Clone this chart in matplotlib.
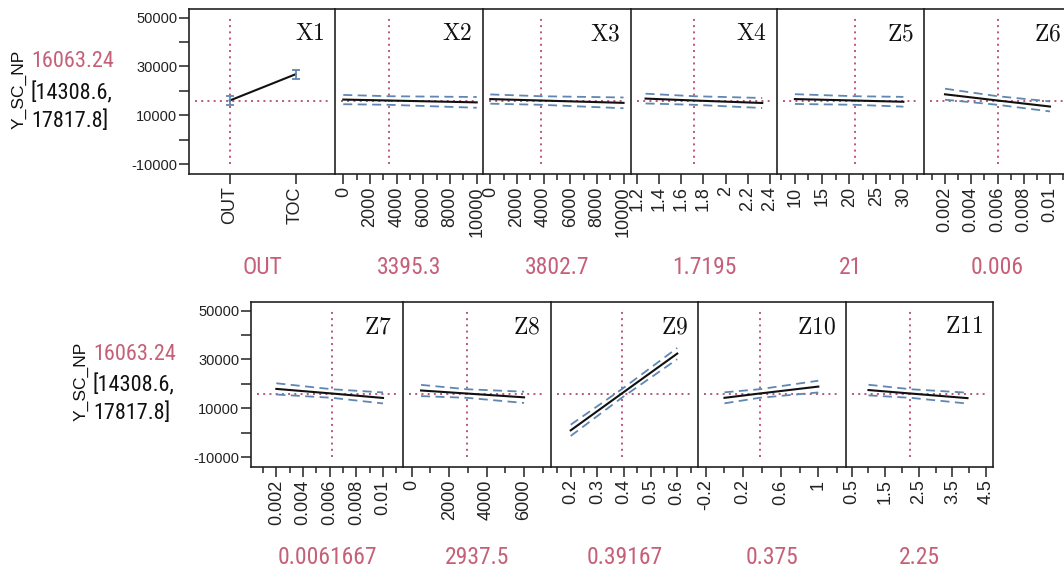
import matplotlib
matplotlib.use("Agg")
import matplotlib.pyplot as plt
from matplotlib import font_manager
from matplotlib.ticker import FixedLocator, FixedFormatter, NullFormatter

# ---------------- data ----------------
response_name = "Y_SC_NP"
response_value = "16063.24"
response_ci = ["[14308.6,", "17817.8]"]
y_current = 16063.24

factor_names = ["X1", "X2", "X3", "X4", "Z5", "Z6", "Z7", "Z8", "Z9", "Z10", "Z11"]
current_labels = ["OUT", "3395.3", "3802.7", "1.7195", "21", "0.006",
                  "0.0061667", "2937.5", "0.39167", "0.375", "2.25"]

# X1 is categorical
x1_levels = ["OUT", "TOC"]
x1_pred = [16063.24, 26800]
x1_lower = [14308.6, 24900]
x1_upper = [17817.8, 28700]

# continuous factors: [min, current, max]
x2_x = [0, 3395.3, 10000]
x2_pred = [16450, 16063.24, 15300]
x2_lo = [14550, 14308.6, 13100]
x2_hi = [18350, 17817.8, 17500]

x3_x = [0, 3802.7, 10000]
x3_pred = [16650, 16063.24, 15100]
x3_lo = [14750, 14308.6, 12900]
x3_hi = [18550, 17817.8, 17300]

x4_x = [1.28, 1.7195, 2.33]
x4_pred = [16850, 16063.24, 15050]
x4_lo = [14850, 14308.6, 13000]
x4_hi = [18850, 17817.8, 17100]

z5_x = [10, 21, 30]
z5_pred = [16650, 16063.24, 15550]
z5_lo = [14650, 14308.6, 13550]
z5_hi = [18650, 17817.8, 17550]

z6_x = [0.002, 0.006, 0.01]
z6_pred = [18600, 16063.24, 13600]
z6_lo = [16400, 14308.6, 11600]
z6_hi = [20900, 17817.8, 15700]

z7_x = [0.002, 0.0061667, 0.01]
z7_pred = [17950, 16063.24, 14250]
z7_lo = [15650, 14308.6, 12000]
z7_hi = [20250, 17817.8, 16500]

z8_x = [500, 2937.5, 6000]
z8_pred = [17300, 16063.24, 14500]
z8_lo = [15000, 14308.6, 12200]
z8_hi = [19600, 17817.8, 16800]

z9_x = [0.2, 0.39167, 0.6]
z9_pred = [1000, 16063.24, 32400]
z9_lo = [-1300, 14308.6, 30100]
z9_hi = [3300, 17817.8, 34700]

z10_x = [0, 0.375, 1]
z10_pred = [14300, 16063.24, 18900]
z10_lo = [12050, 14308.6, 16500]
z10_hi = [16550, 17817.8, 21300]

z11_x = [1, 2.25, 3.95]
z11_pred = [17480, 16063.24, 14170]
z11_lo = [15300, 14308.6, 11950]
z11_hi = [19650, 17817.8, 16400]

# axis ticks
y_ticks = [-10000, 0, 10000, 20000, 30000, 40000, 50000]
y_ticklabels = ["-10000", "", "10000", "", "30000", "", "50000"]

x2_ticks = [0, 2000, 4000, 6000, 8000, 10000]
x2_minor = [1000, 3000, 5000, 7000, 9000]
x3_ticks = [0, 2000, 4000, 6000, 8000, 10000]
x3_minor = [1000, 3000, 5000, 7000, 9000]
x4_ticks = [1.2, 1.4, 1.6, 1.8, 2.0, 2.2, 2.4]
x4_ticklabels = ["1.2", "1.4", "1.6", "1.8", "2", "2.2", "2.4"]
z5_ticks = [10, 15, 20, 25, 30]
z5_minor = [7.5, 12.5, 17.5, 22.5, 27.5, 32.5]
z6_ticks = [0.002, 0.004, 0.006, 0.008, 0.01]
z6_minor = [0.001, 0.003, 0.005, 0.007, 0.009, 0.011]
z7_ticks = [0.002, 0.004, 0.006, 0.008, 0.01]
z7_minor = [0.001, 0.003, 0.005, 0.007, 0.009, 0.011]
z8_ticks = [0, 2000, 4000, 6000]
z8_minor = [1000, 3000, 5000, 7000]
z9_ticks = [0.2, 0.3, 0.4, 0.5, 0.6]
z9_minor = [0.15, 0.25, 0.35, 0.45, 0.55, 0.65]
z10_ticks = [-0.2, 0.2, 0.6, 1.0]
z10_ticklabels = ["-0.2", "0.2", "0.6", "1"]
z10_minor = [0.0, 0.4, 0.8, 1.2]
z11_ticks = [0.5, 1.5, 2.5, 3.5, 4.5]
z11_minor = [1, 2, 3, 4]

# ---------------- style / layout ----------------
W, H = 1064, 571
plt.rcParams["mathtext.fontset"] = "cm"
plt.rcParams["font.family"] = ["Liberation Sans", "DejaVu Sans"]

# pick a narrow sans family if one is installed
installed = {f.name for f in font_manager.fontManager.ttflist}
narrow_candidates = ["Liberation Sans Narrow", "Roboto Condensed", "Open Sans Condensed",
                     "DejaVu Sans Condensed", "Arial Narrow"]
narrow = [n for n in narrow_candidates if n in installed]
if narrow:
    NARROW = [narrow[0], "Liberation Sans"]
    LABEL_FS, BLOCK_FS = 17, 16
else:
    NARROW = ["Liberation Sans"]
    LABEL_FS, BLOCK_FS = 14.5, 14

RED = "#c65f78"
DOT = "#b8577a"
BLUE = "#5f87b2"

fig = plt.figure(figsize=(W / 100, H / 100), dpi=100)
fig.patch.set_facecolor("white")

YLIM = (-14000, 53500)


def px_axes(left, top, width, height):
    return fig.add_axes([left / W, 1 - (top + height) / H, width / W, height / H])


def style_axes(ax, first):
    ax.patch.set_visible(False)
    for s in ax.spines.values():
        s.set_linewidth(1.2)
        s.set_color("#222222")
    if not first:
        ax.spines["left"].set_visible(False)
    ax.set_ylim(*YLIM)
    ax.tick_params(axis="x", which="major", direction="out", length=7, width=1.1,
                   labelsize=13, pad=2, colors="#222222")
    ax.tick_params(axis="x", which="minor", direction="out", length=4.5, width=1.1,
                   colors="#222222")
    if first:
        ax.yaxis.set_major_locator(FixedLocator(y_ticks))
        ax.yaxis.set_major_formatter(FixedFormatter(y_ticklabels))
        ax.tick_params(axis="y", direction="out", length=7, width=1.1, labelsize=10.5,
                       pad=1.5, colors="#222222")
    else:
        ax.tick_params(axis="y", left=False, labelleft=False)


def add_title(ax, name):
    ax.text(0.93, 0.81, r"$\mathrm{%s}$" % name, transform=ax.transAxes,
            ha="right", va="baseline", fontsize=17, color="#111111")


def ref_lines(ax, xcur):
    ax.axhline(y_current, xmin=0.04, xmax=0.96, color=DOT, lw=1.4,
               linestyle=(0, (1, 2.2)), zorder=1)
    ax.vlines(xcur, y_ticks[0], y_ticks[-1], color=DOT, lw=1.4,
              linestyle=(0, (1, 2.2)), zorder=1)


def continuous_panel(ax, xs, pred, lo, hi, xlim, ticks, minor, ticklabels=None):
    ax.set_xlim(*xlim)
    ref_lines(ax, xs[1])
    ax.plot(xs, hi, color=BLUE, lw=1.3, linestyle=(0, (5, 3)), zorder=2)
    ax.plot(xs, lo, color=BLUE, lw=1.3, linestyle=(0, (5, 3)), zorder=2)
    ax.plot(xs, pred, color="#111111", lw=1.5, zorder=3)
    ax.xaxis.set_major_locator(FixedLocator(ticks))
    if ticklabels is None:
        ticklabels = [("%g" % t) for t in ticks]
    ax.xaxis.set_major_formatter(FixedFormatter(ticklabels))
    if minor:
        ax.xaxis.set_minor_locator(FixedLocator(minor))
        ax.xaxis.set_minor_formatter(NullFormatter())
    for lab in ax.get_xticklabels():
        lab.set_rotation(90)


top_edges = [189, 335, 483, 631, 777, 924, 1071]
bot_edges = [251, 403, 551, 698, 846, 993]
PH = 165
TOP_Y, BOT_Y = 9, 302

axes = []
for i in range(len(top_edges) - 1):
    ax = px_axes(top_edges[i], TOP_Y, top_edges[i + 1] - top_edges[i], PH)
    style_axes(ax, i == 0)
    axes.append(ax)
for i in range(len(bot_edges) - 1):
    ax = px_axes(bot_edges[i], BOT_Y, bot_edges[i + 1] - bot_edges[i], PH)
    style_axes(ax, i == 0)
    axes.append(ax)

# X1 categorical panel
ax = axes[0]
pos = list(range(len(x1_levels)))
ax.set_xlim(-0.62, 1.6)
ref_lines(ax, pos[0])
ax.plot(pos, x1_pred, color="#111111", lw=1.5, zorder=3)
err = [[p - l for p, l in zip(x1_pred, x1_lower)], [u - p for p, u in zip(x1_pred, x1_upper)]]
ax.errorbar(pos, x1_pred, yerr=err, fmt="none", ecolor=BLUE, elinewidth=1.3,
            capsize=3, capthick=1.3, zorder=4)
ax.set_xticks(pos)
ax.set_xticklabels(x1_levels, rotation=90)

continuous_panel(axes[1], x2_x, x2_pred, x2_lo, x2_hi, (-620, 10470), x2_ticks, x2_minor)
continuous_panel(axes[2], x3_x, x3_pred, x3_lo, x3_hi, (-550, 10560), x3_ticks, x3_minor)
continuous_panel(axes[3], x4_x, x4_pred, x4_lo, x4_hi, (1.149, 2.463), x4_ticks, None, x4_ticklabels)
continuous_panel(axes[4], z5_x, z5_pred, z5_lo, z5_hi, (6.7, 33.8), z5_ticks, z5_minor)
continuous_panel(axes[5], z6_x, z6_pred, z6_lo, z6_hi, (0.0004, 0.0116), z6_ticks, z6_minor)
continuous_panel(axes[6], z7_x, z7_pred, z7_lo, z7_hi, (0.0001, 0.0115), z7_ticks, z7_minor)
continuous_panel(axes[7], z8_x, z8_pred, z8_lo, z8_hi, (-465, 7440), z8_ticks, z8_minor)
continuous_panel(axes[8], z9_x, z9_pred, z9_lo, z9_hi, (0.126, 0.678), z9_ticks, z9_minor)
continuous_panel(axes[9], z10_x, z10_pred, z10_lo, z10_hi, (-0.282, 1.295), z10_ticks, z10_minor, z10_ticklabels)
continuous_panel(axes[10], z11_x, z11_pred, z11_lo, z11_hi, (0.33, 4.71), z11_ticks, z11_minor)

for ax, name in zip(axes, factor_names):
    add_title(ax, name)

# current-value labels under each panel
panel_centers = ([(top_edges[i] + top_edges[i + 1]) / 2 for i in range(6)] +
                 [(bot_edges[i] + bot_edges[i + 1]) / 2 for i in range(5)])
for i, lab in enumerate(current_labels):
    yc = 267 if i < 6 else 557
    fig.text(panel_centers[i] / W, 1 - yc / H, lab, ha="center", va="center",
             fontsize=LABEL_FS, color=RED, family=NARROW)


# response label blocks
def response_block(x_rot, y_rot, x_text, y_lines):
    fig.text(x_rot / W, 1 - y_rot / H, response_name, rotation=90, ha="center",
             va="center", fontsize=12.5, color="#111111")
    fig.text(x_text / W, 1 - y_lines[0] / H, response_value, ha="left", va="center",
             fontsize=BLOCK_FS, color=RED, family=NARROW)
    fig.text(x_text / W, 1 - y_lines[1] / H, response_ci[0], ha="left", va="center",
             fontsize=BLOCK_FS, color="#111111", family=NARROW)
    fig.text(x_text / W, 1 - y_lines[2] / H, response_ci[1], ha="left", va="center",
             fontsize=BLOCK_FS, color="#111111", family=NARROW)


response_block(19, 89, 31, [61.5, 93, 121.5])
response_block(81, 381, 93, [355, 385, 413])

fig.savefig("out.png", dpi=100, facecolor="white")
